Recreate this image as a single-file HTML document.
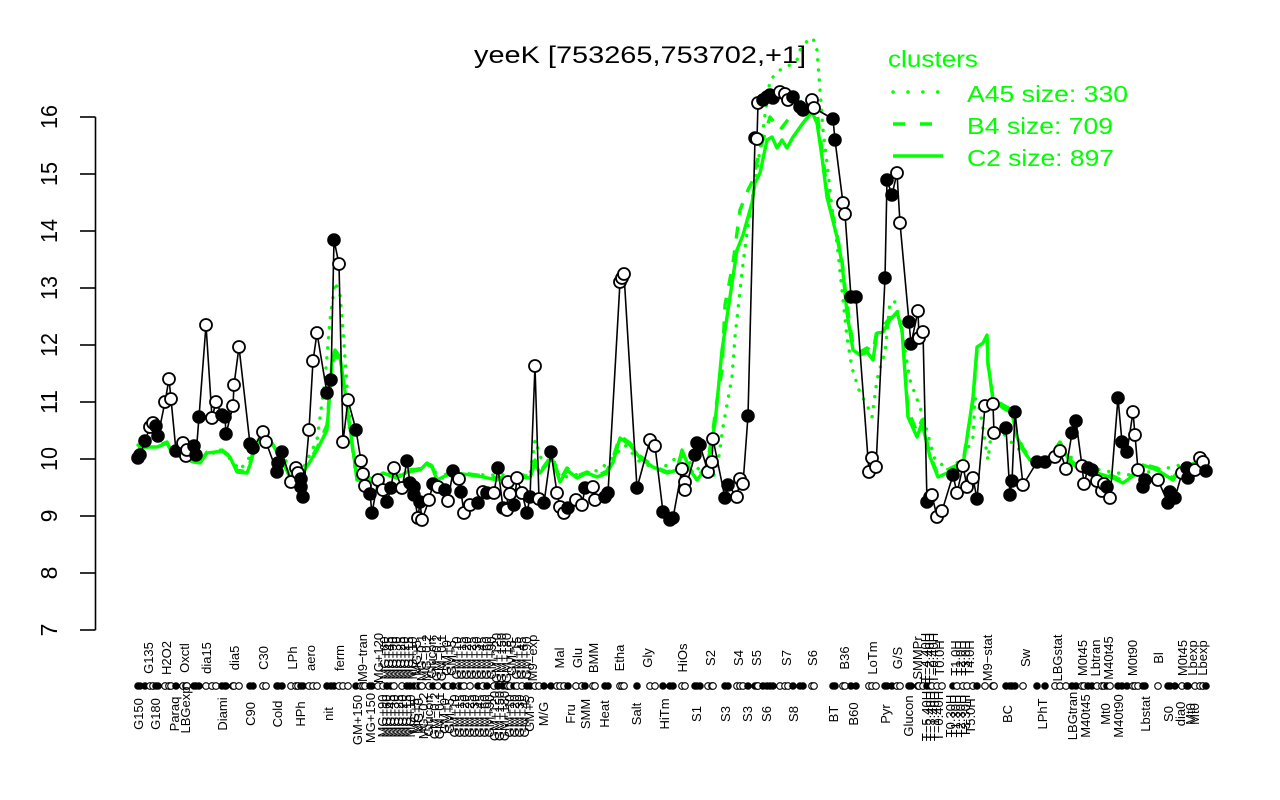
<!DOCTYPE html>
<html><head><meta charset="utf-8"><style>
html,body{margin:0;padding:0;background:#fff}
svg{display:block}
.a{fill:#000;stroke:#000;stroke-width:1.6}
.b{fill:#fff;stroke:#000;stroke-width:1.8}
.c{fill:#000;stroke:#000;stroke-width:1}
.d{fill:#fff;stroke:#000;stroke-width:1.1}
.g{fill:none;stroke:#00ff00;stroke-width:3.4;stroke-linejoin:round}
text{font-family:"Liberation Sans",Arial,sans-serif}
.xl text{font-size:13px}
</style></head><body>
<svg width="1280" height="800" viewBox="0 0 1280 800" xmlns="http://www.w3.org/2000/svg">
<rect width="1280" height="800" fill="#fff"/>
<!-- title -->
<text x="474" y="63" font-size="24" textLength="332" lengthAdjust="spacingAndGlyphs" fill="#000">yeeK [753265,753702,+1]</text>
<!-- y axis -->
<g stroke="#000" stroke-width="1.6" fill="none">
<line x1="95.5" y1="117" x2="95.5" y2="630"/>
<line x1="80" y1="117" x2="95.5" y2="117"/><line x1="80" y1="174" x2="95.5" y2="174"/><line x1="80" y1="231" x2="95.5" y2="231"/><line x1="80" y1="288" x2="95.5" y2="288"/><line x1="80" y1="345" x2="95.5" y2="345"/><line x1="80" y1="402" x2="95.5" y2="402"/><line x1="80" y1="459" x2="95.5" y2="459"/><line x1="80" y1="516" x2="95.5" y2="516"/><line x1="80" y1="573" x2="95.5" y2="573"/><line x1="80" y1="630" x2="95.5" y2="630"/>
</g>
<g font-size="23" text-anchor="middle" fill="#000">
<text transform="translate(57,117) rotate(-90)" textLength="24" lengthAdjust="spacingAndGlyphs">16</text>
<text transform="translate(57,174) rotate(-90)" textLength="24" lengthAdjust="spacingAndGlyphs">15</text>
<text transform="translate(57,231) rotate(-90)" textLength="24" lengthAdjust="spacingAndGlyphs">14</text>
<text transform="translate(57,288) rotate(-90)" textLength="24" lengthAdjust="spacingAndGlyphs">13</text>
<text transform="translate(57,345) rotate(-90)" textLength="24" lengthAdjust="spacingAndGlyphs">12</text>
<text transform="translate(57,402) rotate(-90)" textLength="24" lengthAdjust="spacingAndGlyphs">11</text>
<text transform="translate(57,459) rotate(-90)" textLength="24" lengthAdjust="spacingAndGlyphs">10</text>
<text transform="translate(57,516) rotate(-90)">9</text>
<text transform="translate(57,573) rotate(-90)">8</text>
<text transform="translate(57,630) rotate(-90)">7</text>
</g>
<!-- legend -->
<g fill="#00ff00" font-size="23">
<text x="888" y="67" textLength="90" lengthAdjust="spacingAndGlyphs">clusters</text>
<text x="967" y="102" textLength="161" lengthAdjust="spacingAndGlyphs">A45 size: 330</text>
<text x="967" y="134" textLength="146" lengthAdjust="spacingAndGlyphs">B4 size: 709</text>
<text x="967" y="166" textLength="147" lengthAdjust="spacingAndGlyphs">C2 size: 897</text>
</g>
<line x1="893" y1="92" x2="940" y2="92" stroke="#00ff00" stroke-width="3.4" stroke-linecap="round" stroke-dasharray="0.1 14.8"/>
<line x1="893" y1="124" x2="933" y2="124" stroke="#00ff00" stroke-width="3.4" stroke-dasharray="12 15"/>
<line x1="893" y1="156" x2="943" y2="156" stroke="#00ff00" stroke-width="3.4"/>

<!-- cluster lines -->
<polyline class="g" points="138,447 157,447 167,443 173,455 183,457 193,462 200,463 207,453 222,451 230,457 237,472 247,473 250,465 255,447 263,433 270,440 280,457 290,477 303,473 317,450 327,430 330,390 332,362 335,350 340,357 343,377 348,413 353,450 357,480 370,482 383,473 397,478 407,472 420,470 427,463 432,467 437,480 447,475 457,473 470,475 483,477 497,480 507,478 520,477 530,478 535,463 540,473 552,458 560,482 567,470 577,478 587,473 597,477 607,473 613,462 620,438 630,445 640,458 653,467 667,473 677,470 682,450 690,470 697,480 707,467 715,423 717,403 722,350 727,317 730,297 737,250 743,235 752,203 755,183 760,173 767,140 772,137 777,148 782,140 787,148 793,137 803,123 812,112 817,123 822,157 827,197 832,217 837,237 842,263 847,313 853,350 860,355 867,352 873,360 877,333 883,332 890,320 897,312 902,330 908,417 917,437 922,423 930,457 938,477 947,473 963,465 973,397 977,347 983,343 987,335 988,363 993,400 1003,408 1012,413 1017,437 1023,450 1030,460 1043,462 1053,453 1060,443 1070,462 1083,472 1097,473 1113,478 1123,483 1137,473 1143,465 1157,470 1173,480 1180,470 1197,463"/>
<polyline class="g" stroke-dasharray="12 12" points="138,448 157,446 167,442 173,454 183,456 193,461 200,462 207,452 222,450 230,456 237,470 247,472 250,463 255,446 263,432 270,440 280,456 290,476 303,472 317,448 327,425 330,385 332,365 335,355 340,360 343,380 348,415 353,452 357,478 370,481 383,472 397,477 407,470 420,469 427,462 432,466 437,478 447,474 457,472 470,474 483,476 497,478 507,477 520,476 530,476 535,460 540,472 552,455 560,480 567,468 577,476 587,472 597,476 607,471 613,458 620,436 630,443 640,456 653,466 667,472 677,469 682,452 690,469 697,478 707,465 713,430 717,400 722,370 725,305 733,263 740,210 748,190 752,182 760,150 770,117 780,130 790,117 800,103 810,93 817,112 822,150 827,190 832,212 837,235 842,260 847,305 853,345 860,352 867,348 873,352 877,330 883,326 890,318 897,315 902,330 908,410 917,432 922,420 930,455 938,475 947,470 963,462 973,400 977,350 983,345 987,338 988,365 993,398 1003,405 1012,410 1017,435 1023,448 1030,458 1043,460 1053,452 1060,442 1070,460 1083,470 1097,472 1113,476 1123,481 1137,472 1143,464 1157,468 1173,478 1180,469 1197,462"/>
<polyline class="g" stroke-linecap="round" stroke-dasharray="0.1 10" points="138,445 160,440 180,450 200,458 222,450 240,470 255,450 263,430 280,455 300,475 317,440 325,380 330,320 335,282 340,295 343,330 348,400 355,470 370,478 400,475 430,465 440,478 480,475 530,475 535,440 545,470 552,455 560,478 600,470 615,455 625,445 640,462 660,470 680,455 700,470 712,478 717,470 723,427 732,377 735,337 742,272 747,233 752,200 760,150 770,80 780,70 790,65 797,60 800,50 808,40 813,38 817,50 820,90 823,130 827,163 833,217 837,243 842,290 847,337 852,368 860,393 867,405 872,417 877,380 880,368 885,353 890,302 895,302 900,320 910,380 922,413 935,460 950,470 965,455 973,437 975,398 980,410 988,460 992,427 1000,430 1012,443 1025,455 1045,460 1060,450 1075,460 1100,470 1130,475 1160,470 1200,460"/>

<!-- data line -->
<polyline fill="none" stroke="#000" stroke-width="1.6" stroke-linejoin="round" points="138,458 140,455 145,441 150,427 153,423 156,426 158,436 165,402 169,379 171,399 176,451 183,443 186,456 187,450 194,446 196,455 199,417 206,325 212,418 216,402 222,415 225,417 226,434 233,406 234,385 239,347 250,444 253,448 263,432 266,442 277,472 278,463 282,452 291,482 296,468 298,473 301,479 301,487 303,497 309,430 313,361 317,333 327,393 331,380 334,240 339,264 343,442 348,400 356,430 361,461 363,474 365,486 370,494 372,513 378,480 383,490 387,502 391,488 394,468 402,488 407,461 410,483 414,487 414,495 418,518 420,502 422,520 429,500 433,484 438,487 445,490 448,501 453,471 459,479 461,492 464,513 470,505 478,503 483,492 487,493 494,493 498,468 503,508 507,510 508,482 510,494 514,505 517,478 522,493 527,513 530,497 535,366 539,499 544,503 551,452 557,493 560,507 564,513 568,508 576,500 582,505 585,488 593,487 595,500 605,497 608,493 620,282 622,278 624,274 637,488 650,440 655,446 663,512 670,520 673,518 682,469 685,482 685,490 695,455 697,443 700,445 708,472 712,462 713,439 725,498 728,485 737,497 740,479 743,484 748,416 755,138 757,139 758,103 763,100 767,97 770,95 773,98 780,92 785,94 788,100 793,97 800,107 803,110 812,100 814,108 833,119 835,140 843,203 845,214 851,297 856,297 869,472 872,458 876,467 885,278 887,180 892,195 897,173 900,223 909,322 911,344 918,311 919,338 923,332 927,502 930,497 932,495 937,517 942,511 953,475 957,493 963,466 967,487 973,478 977,499 985,406 993,404 994,433 1006,428 1010,495 1012,481 1015,412 1023,485 1037,462 1045,462 1055,457 1060,451 1066,469 1072,433 1076,421 1082,466 1084,484 1088,468 1092,470 1097,481 1102,491 1104,484 1107,487 1110,498 1118,398 1122,442 1127,452 1133,412 1135,435 1138,470 1143,487 1145,480 1158,480 1168,503 1170,492 1175,498 1182,473 1187,468 1188,478 1195,470 1200,458 1203,462 1206,471"/>

<!-- data points -->
<g>
<circle cx="138" cy="458" r="6" class="a"/><circle cx="140" cy="455" r="6" class="a"/><circle cx="145" cy="441" r="6" class="a"/><circle cx="150" cy="427" r="6" class="b"/><circle cx="153" cy="423" r="6" class="b"/><circle cx="156" cy="426" r="6" class="a"/><circle cx="158" cy="436" r="6" class="a"/><circle cx="165" cy="402" r="6" class="b"/><circle cx="169" cy="379" r="6" class="b"/><circle cx="171" cy="399" r="6" class="b"/>
<circle cx="176" cy="451" r="6" class="a"/><circle cx="183" cy="443" r="6" class="b"/><circle cx="186" cy="456" r="6" class="b"/><circle cx="187" cy="450" r="6" class="b"/><circle cx="194" cy="446" r="6" class="a"/><circle cx="196" cy="455" r="6" class="a"/><circle cx="199" cy="417" r="6" class="a"/><circle cx="206" cy="325" r="6" class="b"/><circle cx="212" cy="418" r="6" class="b"/><circle cx="216" cy="402" r="6" class="b"/>
<circle cx="222" cy="415" r="6" class="a"/><circle cx="225" cy="417" r="6" class="a"/><circle cx="226" cy="434" r="6" class="a"/><circle cx="233" cy="406" r="6" class="b"/><circle cx="234" cy="385" r="6" class="b"/><circle cx="239" cy="347" r="6" class="b"/><circle cx="250" cy="444" r="6" class="a"/><circle cx="253" cy="448" r="6" class="a"/><circle cx="263" cy="432" r="6" class="b"/><circle cx="266" cy="442" r="6" class="b"/>
<circle cx="277" cy="472" r="6" class="a"/><circle cx="278" cy="463" r="6" class="a"/><circle cx="282" cy="452" r="6" class="a"/><circle cx="291" cy="482" r="6" class="b"/><circle cx="296" cy="468" r="6" class="b"/><circle cx="298" cy="473" r="6" class="b"/><circle cx="301" cy="479" r="6" class="a"/><circle cx="301" cy="487" r="6" class="a"/><circle cx="303" cy="497" r="6" class="a"/><circle cx="309" cy="430" r="6" class="b"/>
<circle cx="313" cy="361" r="6" class="b"/><circle cx="317" cy="333" r="6" class="b"/><circle cx="327" cy="393" r="6" class="a"/><circle cx="331" cy="380" r="6" class="a"/><circle cx="334" cy="240" r="6" class="a"/><circle cx="339" cy="264" r="6" class="b"/><circle cx="343" cy="442" r="6" class="b"/><circle cx="348" cy="400" r="6" class="b"/><circle cx="356" cy="430" r="6" class="a"/><circle cx="361" cy="461" r="6" class="b"/>
<circle cx="363" cy="474" r="6" class="b"/><circle cx="365" cy="486" r="6" class="b"/><circle cx="370" cy="494" r="6" class="a"/><circle cx="372" cy="513" r="6" class="a"/><circle cx="378" cy="480" r="6" class="b"/><circle cx="383" cy="490" r="6" class="b"/><circle cx="387" cy="502" r="6" class="a"/><circle cx="391" cy="488" r="6" class="a"/><circle cx="394" cy="468" r="6" class="b"/><circle cx="402" cy="488" r="6" class="b"/>
<circle cx="407" cy="461" r="6" class="a"/><circle cx="410" cy="483" r="6" class="a"/><circle cx="414" cy="487" r="6" class="a"/><circle cx="414" cy="495" r="6" class="a"/><circle cx="418" cy="518" r="6" class="b"/><circle cx="420" cy="502" r="6" class="a"/><circle cx="422" cy="520" r="6" class="b"/><circle cx="429" cy="500" r="6" class="b"/><circle cx="433" cy="484" r="6" class="a"/><circle cx="438" cy="487" r="6" class="b"/>
<circle cx="445" cy="490" r="6" class="a"/><circle cx="448" cy="501" r="6" class="b"/><circle cx="453" cy="471" r="6" class="a"/><circle cx="459" cy="479" r="6" class="b"/><circle cx="461" cy="492" r="6" class="a"/><circle cx="464" cy="513" r="6" class="b"/><circle cx="470" cy="505" r="6" class="b"/><circle cx="478" cy="503" r="6" class="a"/><circle cx="483" cy="492" r="6" class="b"/><circle cx="487" cy="493" r="6" class="a"/>
<circle cx="494" cy="493" r="6" class="b"/><circle cx="498" cy="468" r="6" class="a"/><circle cx="503" cy="508" r="6" class="a"/><circle cx="507" cy="510" r="6" class="b"/><circle cx="508" cy="482" r="6" class="b"/><circle cx="510" cy="494" r="6" class="b"/><circle cx="514" cy="505" r="6" class="a"/><circle cx="517" cy="478" r="6" class="b"/><circle cx="522" cy="493" r="6" class="b"/><circle cx="527" cy="513" r="6" class="a"/>
<circle cx="530" cy="497" r="6" class="a"/><circle cx="535" cy="366" r="6" class="b"/><circle cx="539" cy="499" r="6" class="b"/><circle cx="544" cy="503" r="6" class="a"/><circle cx="551" cy="452" r="6" class="a"/><circle cx="557" cy="493" r="6" class="b"/><circle cx="560" cy="507" r="6" class="b"/><circle cx="564" cy="513" r="6" class="b"/><circle cx="568" cy="508" r="6" class="a"/><circle cx="576" cy="500" r="6" class="b"/>
<circle cx="582" cy="505" r="6" class="b"/><circle cx="585" cy="488" r="6" class="a"/><circle cx="593" cy="487" r="6" class="b"/><circle cx="595" cy="500" r="6" class="b"/><circle cx="605" cy="497" r="6" class="a"/><circle cx="608" cy="493" r="6" class="a"/><circle cx="620" cy="282" r="6" class="b"/><circle cx="622" cy="278" r="6" class="b"/><circle cx="624" cy="274" r="6" class="b"/><circle cx="637" cy="488" r="6" class="a"/>
<circle cx="650" cy="440" r="6" class="b"/><circle cx="655" cy="446" r="6" class="b"/><circle cx="663" cy="512" r="6" class="a"/><circle cx="670" cy="520" r="6" class="a"/><circle cx="673" cy="518" r="6" class="a"/><circle cx="682" cy="469" r="6" class="b"/><circle cx="685" cy="482" r="6" class="b"/><circle cx="685" cy="490" r="6" class="b"/><circle cx="695" cy="455" r="6" class="a"/><circle cx="697" cy="443" r="6" class="a"/>
<circle cx="700" cy="445" r="6" class="a"/><circle cx="708" cy="472" r="6" class="b"/><circle cx="712" cy="462" r="6" class="b"/><circle cx="713" cy="439" r="6" class="b"/><circle cx="725" cy="498" r="6" class="a"/><circle cx="728" cy="485" r="6" class="a"/><circle cx="737" cy="497" r="6" class="b"/><circle cx="740" cy="479" r="6" class="b"/><circle cx="743" cy="484" r="6" class="b"/><circle cx="748" cy="416" r="6" class="a"/>
<circle cx="755" cy="138" r="6" class="a"/><circle cx="757" cy="139" r="6" class="b"/><circle cx="758" cy="103" r="6" class="b"/><circle cx="763" cy="100" r="6" class="a"/><circle cx="767" cy="97" r="6" class="a"/><circle cx="770" cy="95" r="6" class="a"/><circle cx="773" cy="98" r="6" class="a"/><circle cx="780" cy="92" r="6" class="b"/><circle cx="785" cy="94" r="6" class="b"/><circle cx="788" cy="100" r="6" class="b"/>
<circle cx="793" cy="97" r="6" class="a"/><circle cx="800" cy="107" r="6" class="a"/><circle cx="803" cy="110" r="6" class="a"/><circle cx="812" cy="100" r="6" class="b"/><circle cx="814" cy="108" r="6" class="b"/><circle cx="833" cy="119" r="6" class="a"/><circle cx="835" cy="140" r="6" class="a"/><circle cx="843" cy="203" r="6" class="b"/><circle cx="845" cy="214" r="6" class="b"/><circle cx="851" cy="297" r="6" class="a"/>
<circle cx="856" cy="297" r="6" class="a"/><circle cx="869" cy="472" r="6" class="b"/><circle cx="872" cy="458" r="6" class="b"/><circle cx="876" cy="467" r="6" class="b"/><circle cx="885" cy="278" r="6" class="a"/><circle cx="887" cy="180" r="6" class="a"/><circle cx="892" cy="195" r="6" class="a"/><circle cx="897" cy="173" r="6" class="b"/><circle cx="900" cy="223" r="6" class="b"/><circle cx="909" cy="322" r="6" class="a"/>
<circle cx="911" cy="344" r="6" class="a"/><circle cx="918" cy="311" r="6" class="b"/><circle cx="919" cy="338" r="6" class="b"/><circle cx="923" cy="332" r="6" class="b"/><circle cx="927" cy="502" r="6" class="a"/><circle cx="930" cy="497" r="6" class="a"/><circle cx="932" cy="495" r="6" class="b"/><circle cx="937" cy="517" r="6" class="b"/><circle cx="942" cy="511" r="6" class="b"/><circle cx="953" cy="475" r="6" class="a"/>
<circle cx="957" cy="493" r="6" class="b"/><circle cx="963" cy="466" r="6" class="b"/><circle cx="967" cy="487" r="6" class="b"/><circle cx="973" cy="478" r="6" class="b"/><circle cx="977" cy="499" r="6" class="a"/><circle cx="985" cy="406" r="6" class="b"/><circle cx="993" cy="404" r="6" class="b"/><circle cx="994" cy="433" r="6" class="b"/><circle cx="1006" cy="428" r="6" class="a"/><circle cx="1010" cy="495" r="6" class="a"/>
<circle cx="1012" cy="481" r="6" class="a"/><circle cx="1015" cy="412" r="6" class="a"/><circle cx="1023" cy="485" r="6" class="b"/><circle cx="1037" cy="462" r="6" class="a"/><circle cx="1045" cy="462" r="6" class="a"/><circle cx="1055" cy="457" r="6" class="b"/><circle cx="1060" cy="451" r="6" class="b"/><circle cx="1066" cy="469" r="6" class="b"/><circle cx="1072" cy="433" r="6" class="a"/><circle cx="1076" cy="421" r="6" class="a"/>
<circle cx="1082" cy="466" r="6" class="b"/><circle cx="1084" cy="484" r="6" class="b"/><circle cx="1088" cy="468" r="6" class="a"/><circle cx="1092" cy="470" r="6" class="a"/><circle cx="1097" cy="481" r="6" class="b"/><circle cx="1102" cy="491" r="6" class="b"/><circle cx="1104" cy="484" r="6" class="b"/><circle cx="1107" cy="487" r="6" class="a"/><circle cx="1110" cy="498" r="6" class="b"/><circle cx="1118" cy="398" r="6" class="a"/>
<circle cx="1122" cy="442" r="6" class="a"/><circle cx="1127" cy="452" r="6" class="a"/><circle cx="1133" cy="412" r="6" class="b"/><circle cx="1135" cy="435" r="6" class="b"/><circle cx="1138" cy="470" r="6" class="b"/><circle cx="1143" cy="487" r="6" class="a"/><circle cx="1145" cy="480" r="6" class="a"/><circle cx="1158" cy="480" r="6" class="b"/><circle cx="1168" cy="503" r="6" class="a"/><circle cx="1170" cy="492" r="6" class="a"/>
<circle cx="1175" cy="498" r="6" class="a"/><circle cx="1182" cy="473" r="6" class="b"/><circle cx="1187" cy="468" r="6" class="a"/><circle cx="1188" cy="478" r="6" class="a"/><circle cx="1195" cy="470" r="6" class="b"/><circle cx="1200" cy="458" r="6" class="b"/><circle cx="1203" cy="462" r="6" class="b"/><circle cx="1206" cy="471" r="6" class="a"/>
</g>

<!-- dot row -->
<g>
<circle cx="138" cy="686" r="3.3" class="c"/><circle cx="140" cy="686" r="3.3" class="c"/><circle cx="145" cy="686" r="3.3" class="c"/><circle cx="150" cy="686" r="3.3" class="d"/><circle cx="153" cy="686" r="3.3" class="d"/><circle cx="156" cy="686" r="3.3" class="c"/><circle cx="158" cy="686" r="3.3" class="c"/><circle cx="165" cy="686" r="3.3" class="d"/><circle cx="169" cy="686" r="3.3" class="d"/><circle cx="171" cy="686" r="3.3" class="d"/>
<circle cx="176" cy="686" r="3.3" class="c"/><circle cx="183" cy="686" r="3.3" class="d"/><circle cx="186" cy="686" r="3.3" class="d"/><circle cx="187" cy="686" r="3.3" class="d"/><circle cx="194" cy="686" r="3.3" class="c"/><circle cx="196" cy="686" r="3.3" class="c"/><circle cx="199" cy="686" r="3.3" class="c"/><circle cx="206" cy="686" r="3.3" class="d"/><circle cx="212" cy="686" r="3.3" class="d"/><circle cx="216" cy="686" r="3.3" class="d"/>
<circle cx="222" cy="686" r="3.3" class="c"/><circle cx="225" cy="686" r="3.3" class="c"/><circle cx="226" cy="686" r="3.3" class="c"/><circle cx="233" cy="686" r="3.3" class="d"/><circle cx="234" cy="686" r="3.3" class="d"/><circle cx="239" cy="686" r="3.3" class="d"/><circle cx="250" cy="686" r="3.3" class="c"/><circle cx="253" cy="686" r="3.3" class="c"/><circle cx="263" cy="686" r="3.3" class="d"/><circle cx="266" cy="686" r="3.3" class="d"/>
<circle cx="277" cy="686" r="3.3" class="c"/><circle cx="278" cy="686" r="3.3" class="c"/><circle cx="282" cy="686" r="3.3" class="c"/><circle cx="291" cy="686" r="3.3" class="d"/><circle cx="296" cy="686" r="3.3" class="d"/><circle cx="298" cy="686" r="3.3" class="d"/><circle cx="301" cy="686" r="3.3" class="c"/><circle cx="303" cy="686" r="3.3" class="c"/><circle cx="309" cy="686" r="3.3" class="d"/>
<circle cx="313" cy="686" r="3.3" class="d"/><circle cx="317" cy="686" r="3.3" class="d"/><circle cx="327" cy="686" r="3.3" class="c"/><circle cx="331" cy="686" r="3.3" class="c"/><circle cx="334" cy="686" r="3.3" class="c"/><circle cx="339" cy="686" r="3.3" class="d"/><circle cx="343" cy="686" r="3.3" class="d"/><circle cx="348" cy="686" r="3.3" class="d"/><circle cx="356" cy="686" r="3.3" class="c"/><circle cx="361" cy="686" r="3.3" class="d"/>
<circle cx="363" cy="686" r="3.3" class="d"/><circle cx="365" cy="686" r="3.3" class="d"/><circle cx="370" cy="686" r="3.3" class="c"/><circle cx="372" cy="686" r="3.3" class="c"/><circle cx="378" cy="686" r="3.3" class="d"/><circle cx="383" cy="686" r="3.3" class="d"/><circle cx="387" cy="686" r="3.3" class="c"/><circle cx="391" cy="686" r="3.3" class="c"/><circle cx="394" cy="686" r="3.3" class="d"/><circle cx="402" cy="686" r="3.3" class="d"/>
<circle cx="407" cy="686" r="3.3" class="c"/><circle cx="410" cy="686" r="3.3" class="c"/><circle cx="414" cy="686" r="3.3" class="c"/><circle cx="418" cy="686" r="3.3" class="d"/><circle cx="420" cy="686" r="3.3" class="c"/><circle cx="422" cy="686" r="3.3" class="d"/><circle cx="429" cy="686" r="3.3" class="d"/><circle cx="433" cy="686" r="3.3" class="c"/><circle cx="438" cy="686" r="3.3" class="d"/>
<circle cx="445" cy="686" r="3.3" class="c"/><circle cx="448" cy="686" r="3.3" class="d"/><circle cx="453" cy="686" r="3.3" class="c"/><circle cx="459" cy="686" r="3.3" class="d"/><circle cx="461" cy="686" r="3.3" class="c"/><circle cx="464" cy="686" r="3.3" class="d"/><circle cx="470" cy="686" r="3.3" class="d"/><circle cx="478" cy="686" r="3.3" class="c"/><circle cx="483" cy="686" r="3.3" class="d"/><circle cx="487" cy="686" r="3.3" class="c"/>
<circle cx="494" cy="686" r="3.3" class="d"/><circle cx="498" cy="686" r="3.3" class="c"/><circle cx="503" cy="686" r="3.3" class="c"/><circle cx="507" cy="686" r="3.3" class="d"/><circle cx="508" cy="686" r="3.3" class="d"/><circle cx="510" cy="686" r="3.3" class="d"/><circle cx="514" cy="686" r="3.3" class="c"/><circle cx="517" cy="686" r="3.3" class="d"/><circle cx="522" cy="686" r="3.3" class="d"/><circle cx="527" cy="686" r="3.3" class="c"/>
<circle cx="530" cy="686" r="3.3" class="c"/><circle cx="535" cy="686" r="3.3" class="d"/><circle cx="539" cy="686" r="3.3" class="d"/><circle cx="544" cy="686" r="3.3" class="c"/><circle cx="551" cy="686" r="3.3" class="c"/><circle cx="557" cy="686" r="3.3" class="d"/><circle cx="560" cy="686" r="3.3" class="d"/><circle cx="564" cy="686" r="3.3" class="d"/><circle cx="568" cy="686" r="3.3" class="c"/><circle cx="576" cy="686" r="3.3" class="d"/>
<circle cx="582" cy="686" r="3.3" class="d"/><circle cx="585" cy="686" r="3.3" class="c"/><circle cx="593" cy="686" r="3.3" class="d"/><circle cx="595" cy="686" r="3.3" class="d"/><circle cx="605" cy="686" r="3.3" class="c"/><circle cx="608" cy="686" r="3.3" class="c"/><circle cx="620" cy="686" r="3.3" class="d"/><circle cx="622" cy="686" r="3.3" class="d"/><circle cx="624" cy="686" r="3.3" class="d"/><circle cx="637" cy="686" r="3.3" class="c"/>
<circle cx="650" cy="686" r="3.3" class="d"/><circle cx="655" cy="686" r="3.3" class="d"/><circle cx="663" cy="686" r="3.3" class="c"/><circle cx="670" cy="686" r="3.3" class="c"/><circle cx="673" cy="686" r="3.3" class="c"/><circle cx="682" cy="686" r="3.3" class="d"/><circle cx="685" cy="686" r="3.3" class="d"/><circle cx="695" cy="686" r="3.3" class="c"/><circle cx="697" cy="686" r="3.3" class="c"/>
<circle cx="700" cy="686" r="3.3" class="c"/><circle cx="708" cy="686" r="3.3" class="d"/><circle cx="712" cy="686" r="3.3" class="d"/><circle cx="713" cy="686" r="3.3" class="d"/><circle cx="725" cy="686" r="3.3" class="c"/><circle cx="728" cy="686" r="3.3" class="c"/><circle cx="737" cy="686" r="3.3" class="d"/><circle cx="740" cy="686" r="3.3" class="d"/><circle cx="743" cy="686" r="3.3" class="d"/><circle cx="748" cy="686" r="3.3" class="c"/>
<circle cx="755" cy="686" r="3.3" class="c"/><circle cx="757" cy="686" r="3.3" class="d"/><circle cx="758" cy="686" r="3.3" class="d"/><circle cx="763" cy="686" r="3.3" class="c"/><circle cx="767" cy="686" r="3.3" class="c"/><circle cx="770" cy="686" r="3.3" class="c"/><circle cx="773" cy="686" r="3.3" class="c"/><circle cx="780" cy="686" r="3.3" class="d"/><circle cx="785" cy="686" r="3.3" class="d"/><circle cx="788" cy="686" r="3.3" class="d"/>
<circle cx="793" cy="686" r="3.3" class="c"/><circle cx="800" cy="686" r="3.3" class="c"/><circle cx="803" cy="686" r="3.3" class="c"/><circle cx="812" cy="686" r="3.3" class="d"/><circle cx="814" cy="686" r="3.3" class="d"/><circle cx="833" cy="686" r="3.3" class="c"/><circle cx="835" cy="686" r="3.3" class="c"/><circle cx="843" cy="686" r="3.3" class="d"/><circle cx="845" cy="686" r="3.3" class="d"/><circle cx="851" cy="686" r="3.3" class="c"/>
<circle cx="856" cy="686" r="3.3" class="c"/><circle cx="869" cy="686" r="3.3" class="d"/><circle cx="872" cy="686" r="3.3" class="d"/><circle cx="876" cy="686" r="3.3" class="d"/><circle cx="885" cy="686" r="3.3" class="c"/><circle cx="887" cy="686" r="3.3" class="c"/><circle cx="892" cy="686" r="3.3" class="c"/><circle cx="897" cy="686" r="3.3" class="d"/><circle cx="900" cy="686" r="3.3" class="d"/><circle cx="909" cy="686" r="3.3" class="c"/>
<circle cx="911" cy="686" r="3.3" class="c"/><circle cx="918" cy="686" r="3.3" class="d"/><circle cx="919" cy="686" r="3.3" class="d"/><circle cx="923" cy="686" r="3.3" class="d"/><circle cx="927" cy="686" r="3.3" class="c"/><circle cx="930" cy="686" r="3.3" class="c"/><circle cx="932" cy="686" r="3.3" class="d"/><circle cx="937" cy="686" r="3.3" class="d"/><circle cx="942" cy="686" r="3.3" class="d"/><circle cx="953" cy="686" r="3.3" class="c"/>
<circle cx="957" cy="686" r="3.3" class="d"/><circle cx="963" cy="686" r="3.3" class="d"/><circle cx="967" cy="686" r="3.3" class="d"/><circle cx="973" cy="686" r="3.3" class="d"/><circle cx="977" cy="686" r="3.3" class="c"/><circle cx="985" cy="686" r="3.3" class="d"/><circle cx="993" cy="686" r="3.3" class="d"/><circle cx="994" cy="686" r="3.3" class="d"/><circle cx="1006" cy="686" r="3.3" class="c"/><circle cx="1010" cy="686" r="3.3" class="c"/>
<circle cx="1012" cy="686" r="3.3" class="c"/><circle cx="1015" cy="686" r="3.3" class="c"/><circle cx="1023" cy="686" r="3.3" class="d"/><circle cx="1037" cy="686" r="3.3" class="c"/><circle cx="1045" cy="686" r="3.3" class="c"/><circle cx="1055" cy="686" r="3.3" class="d"/><circle cx="1060" cy="686" r="3.3" class="d"/><circle cx="1066" cy="686" r="3.3" class="d"/><circle cx="1072" cy="686" r="3.3" class="c"/><circle cx="1076" cy="686" r="3.3" class="c"/>
<circle cx="1082" cy="686" r="3.3" class="d"/><circle cx="1084" cy="686" r="3.3" class="d"/><circle cx="1088" cy="686" r="3.3" class="c"/><circle cx="1092" cy="686" r="3.3" class="c"/><circle cx="1097" cy="686" r="3.3" class="d"/><circle cx="1102" cy="686" r="3.3" class="d"/><circle cx="1104" cy="686" r="3.3" class="d"/><circle cx="1107" cy="686" r="3.3" class="c"/><circle cx="1110" cy="686" r="3.3" class="d"/><circle cx="1118" cy="686" r="3.3" class="c"/>
<circle cx="1122" cy="686" r="3.3" class="c"/><circle cx="1127" cy="686" r="3.3" class="c"/><circle cx="1133" cy="686" r="3.3" class="d"/><circle cx="1135" cy="686" r="3.3" class="d"/><circle cx="1138" cy="686" r="3.3" class="d"/><circle cx="1143" cy="686" r="3.3" class="c"/><circle cx="1145" cy="686" r="3.3" class="c"/><circle cx="1158" cy="686" r="3.3" class="d"/><circle cx="1168" cy="686" r="3.3" class="c"/><circle cx="1170" cy="686" r="3.3" class="c"/>
<circle cx="1175" cy="686" r="3.3" class="c"/><circle cx="1182" cy="686" r="3.3" class="d"/><circle cx="1187" cy="686" r="3.3" class="c"/><circle cx="1188" cy="686" r="3.3" class="c"/><circle cx="1195" cy="686" r="3.3" class="d"/><circle cx="1200" cy="686" r="3.3" class="d"/><circle cx="1203" cy="686" r="3.3" class="d"/><circle cx="1206" cy="686" r="3.3" class="c"/>
</g>

<!-- x labels: upper row -->
<g class="xl" text-anchor="middle" fill="#000">
<text transform="translate(153,658) rotate(-90)">G135</text>
<text transform="translate(171,658) rotate(-90)">H2O2</text>
<text transform="translate(189,658) rotate(-90)">Oxctl</text>
<text transform="translate(211,658) rotate(-90)">dia15</text>
<text transform="translate(239,658) rotate(-90)">dia5</text>
<text transform="translate(268,658) rotate(-90)">C30</text>
<text transform="translate(297,658) rotate(-90)">LPh</text>
<text transform="translate(315,658) rotate(-90)">aero</text>
<text transform="translate(344,658) rotate(-90)">ferm</text>
<text transform="translate(367,658) rotate(-90)">M9−tran</text>
<text transform="translate(383,658) rotate(-90)">MG+120</text>
<text transform="translate(389,658) rotate(-90)">MG+60</text>
<text transform="translate(393,658) rotate(-90)">MG+45</text>
<text transform="translate(397,658) rotate(-90)">MG+90</text>
<text transform="translate(401,658) rotate(-90)">MG+30</text>
<text transform="translate(405,658) rotate(-90)">MG+25</text>
<text transform="translate(409,658) rotate(-90)">MG+20</text>
<text transform="translate(413,658) rotate(-90)">MG+15</text>
<text transform="translate(417,658) rotate(-90)">MG+10</text>
<text transform="translate(421,658) rotate(-90)">MG+5</text>
<text transform="translate(426,658) rotate(-90)">MG−0.1</text>
<text transform="translate(431,658) rotate(-90)">MG−0.2</text>
<text transform="translate(436,658) rotate(-90)">Glucon</text>
<text transform="translate(441,658) rotate(-90)">GM−0.2</text>
<text transform="translate(446,658) rotate(-90)">GM−0.1</text>
<text transform="translate(451,658) rotate(-90)">GM+0</text>
<text transform="translate(456,658) rotate(-90)">GM+5</text>
<text transform="translate(461,658) rotate(-90)">GM+10</text>
<text transform="translate(466,658) rotate(-90)">GM+15</text>
<text transform="translate(471,658) rotate(-90)">GM+20</text>
<text transform="translate(476,658) rotate(-90)">GM+25</text>
<text transform="translate(481,658) rotate(-90)">GM+30</text>
<text transform="translate(486,658) rotate(-90)">GM+45</text>
<text transform="translate(491,658) rotate(-90)">GM+60</text>
<text transform="translate(496,658) rotate(-90)">GM+90</text>
<text transform="translate(501,658) rotate(-90)">GM+120</text>
<text transform="translate(506,658) rotate(-90)">GM+150</text>
<text transform="translate(511,658) rotate(-90)">GM+180</text>
<text transform="translate(516,658) rotate(-90)">GM+5</text>
<text transform="translate(521,658) rotate(-90)">GM+15</text>
<text transform="translate(526,658) rotate(-90)">GM+45</text>
<text transform="translate(531,658) rotate(-90)">GM+90</text>
<text transform="translate(537,658) rotate(-90)">M9−exp</text>
<text transform="translate(564,658) rotate(-90)">Mal</text>
<text transform="translate(582,658) rotate(-90)">Glu</text>
<text transform="translate(598,658) rotate(-90)">BMM</text>
<text transform="translate(624,658) rotate(-90)">Etha</text>
<text transform="translate(652,658) rotate(-90)">Gly</text>
<text transform="translate(687,658) rotate(-90)">HiOs</text>
<text transform="translate(715,658) rotate(-90)">S2</text>
<text transform="translate(743,658) rotate(-90)">S4</text>
<text transform="translate(761,658) rotate(-90)">S5</text>
<text transform="translate(791,658) rotate(-90)">S7</text>
<text transform="translate(817,658) rotate(-90)">S6</text>
<text transform="translate(849,658) rotate(-90)">B36</text>
<text transform="translate(877,658) rotate(-90)">LoTm</text>
<text transform="translate(902,658) rotate(-90)">G/S</text>
<text transform="translate(922,658) rotate(-90)">SMMPr</text>
<text transform="translate(930,658) rotate(-90)">T−4.40H</text>
<text transform="translate(934,658) rotate(-90)">T−2.40H</text>
<text transform="translate(938,658) rotate(-90)">T−0.40H</text>
<text transform="translate(944,658) rotate(-90)">T0.0H</text>
<text transform="translate(960,658) rotate(-90)">T1.0H</text>
<text transform="translate(965,658) rotate(-90)">T2.0H</text>
<text transform="translate(970,658) rotate(-90)">T3.0H</text>
<text transform="translate(974,658) rotate(-90)">T4.0H</text>
<text transform="translate(992,658) rotate(-90)">M9−stat</text>
<text transform="translate(1030,658) rotate(-90)">Sw</text>
<text transform="translate(1062,658) rotate(-90)">LBGstat</text>
<text transform="translate(1087,658) rotate(-90)">M0t45</text>
<text transform="translate(1100,658) rotate(-90)">Lbtran</text>
<text transform="translate(1113,658) rotate(-90)">M40t45</text>
<text transform="translate(1137,658) rotate(-90)">M0t90</text>
<text transform="translate(1163,658) rotate(-90)">Bl</text>
<text transform="translate(1187,658) rotate(-90)">M0t45</text>
<text transform="translate(1197,658) rotate(-90)">Lbexp</text>
<text transform="translate(1207,658) rotate(-90)">Lbexp</text>
</g>

<!-- x labels: lower row -->
<g class="xl" text-anchor="middle" fill="#000">
<text transform="translate(143,714) rotate(-90)">G150</text>
<text transform="translate(160,714) rotate(-90)">G180</text>
<text transform="translate(179,714) rotate(-90)">Paraq</text>
<text transform="translate(190,710) rotate(-90)">LBGexp</text>
<text transform="translate(227,714) rotate(-90)">Diami</text>
<text transform="translate(255,714) rotate(-90)">C90</text>
<text transform="translate(282,714) rotate(-90)">Cold</text>
<text transform="translate(305,714) rotate(-90)">HPh</text>
<text transform="translate(333,714) rotate(-90)">nit</text>
<text transform="translate(362,720) rotate(-90)">GM+150</text>
<text transform="translate(375,718) rotate(-90)">MG+150</text>
<text transform="translate(387,716) rotate(-90)">MG+90</text>
<text transform="translate(391,716) rotate(-90)">MG+60</text>
<text transform="translate(395,716) rotate(-90)">MG+45</text>
<text transform="translate(399,716) rotate(-90)">MG+30</text>
<text transform="translate(403,716) rotate(-90)">MG+25</text>
<text transform="translate(407,716) rotate(-90)">MG+20</text>
<text transform="translate(411,716) rotate(-90)">MG+15</text>
<text transform="translate(415,716) rotate(-90)">MG+10</text>
<text transform="translate(419,716) rotate(-90)">MG+5</text>
<text transform="translate(423,716) rotate(-90)">MG+0</text>
<text transform="translate(428,716) rotate(-90)">MG−0.2</text>
<text transform="translate(433,716) rotate(-90)">Glucon</text>
<text transform="translate(439,716) rotate(-90)">GM−0.2</text>
<text transform="translate(444,716) rotate(-90)">GM−0.1</text>
<text transform="translate(449,716) rotate(-90)">GM+0</text>
<text transform="translate(454,716) rotate(-90)">GM+5</text>
<text transform="translate(459,716) rotate(-90)">GM+10</text>
<text transform="translate(464,716) rotate(-90)">GM+15</text>
<text transform="translate(469,716) rotate(-90)">GM+20</text>
<text transform="translate(474,716) rotate(-90)">GM+25</text>
<text transform="translate(479,716) rotate(-90)">GM+30</text>
<text transform="translate(484,716) rotate(-90)">GM+45</text>
<text transform="translate(489,716) rotate(-90)">GM+60</text>
<text transform="translate(494,716) rotate(-90)">GM+90</text>
<text transform="translate(499,716) rotate(-90)">GM+120</text>
<text transform="translate(504,716) rotate(-90)">GM+150</text>
<text transform="translate(509,716) rotate(-90)">GM+180</text>
<text transform="translate(514,716) rotate(-90)">GM+10</text>
<text transform="translate(519,716) rotate(-90)">GM+20</text>
<text transform="translate(524,716) rotate(-90)">GM+30</text>
<text transform="translate(529,716) rotate(-90)">GM+45</text>
<text transform="translate(534,714) rotate(-90)">GM+5</text>
<text transform="translate(548,714) rotate(-90)">M/G</text>
<text transform="translate(575,714) rotate(-90)">Fru</text>
<text transform="translate(590,714) rotate(-90)">SMM</text>
<text transform="translate(609,714) rotate(-90)">Heat</text>
<text transform="translate(641,714) rotate(-90)">Salt</text>
<text transform="translate(669,714) rotate(-90)">HiTm</text>
<text transform="translate(701,714) rotate(-90)">S1</text>
<text transform="translate(730,714) rotate(-90)">S3</text>
<text transform="translate(752,714) rotate(-90)">S3</text>
<text transform="translate(771,714) rotate(-90)">S6</text>
<text transform="translate(798,714) rotate(-90)">S8</text>
<text transform="translate(838,714) rotate(-90)">BT</text>
<text transform="translate(858,714) rotate(-90)">B60</text>
<text transform="translate(890,714) rotate(-90)">Pyr</text>
<text transform="translate(913,716) rotate(-90)">Glucon</text>
<text transform="translate(931,716) rotate(-90)">T−5.40H</text>
<text transform="translate(935,716) rotate(-90)">T−3.40H</text>
<text transform="translate(939,716) rotate(-90)">T−1.40H</text>
<text transform="translate(943,716) rotate(-90)">T−0.40H</text>
<text transform="translate(955,716) rotate(-90)">T0.30H</text>
<text transform="translate(960,716) rotate(-90)">T1.30H</text>
<text transform="translate(965,716) rotate(-90)">T2.30H</text>
<text transform="translate(970,716) rotate(-90)">T3.30H</text>
<text transform="translate(975,716) rotate(-90)">T5.0H</text>
<text transform="translate(1012,714) rotate(-90)">BC</text>
<text transform="translate(1047,714) rotate(-90)">LPhT</text>
<text transform="translate(1077,716) rotate(-90)">LBGtran</text>
<text transform="translate(1090,716) rotate(-90)">M40t45</text>
<text transform="translate(1110,714) rotate(-90)">Mt0</text>
<text transform="translate(1123,716) rotate(-90)">M40t90</text>
<text transform="translate(1150,714) rotate(-90)">Lbstat</text>
<text transform="translate(1173,714) rotate(-90)">S0</text>
<text transform="translate(1185,714) rotate(-90)">dia0</text>
<text transform="translate(1195,714) rotate(-90)">Mt0</text>
<text transform="translate(1199,714) rotate(-90)">Mt0</text>
</g>
</svg>
</body></html>
